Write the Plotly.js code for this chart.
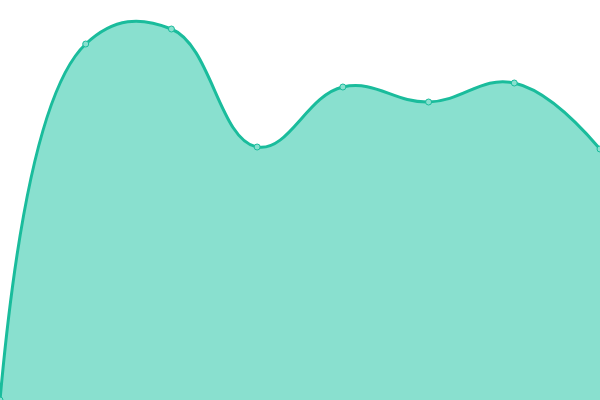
<!DOCTYPE html>
<html><head><meta charset="utf-8">
<script src="https://cdn.plot.ly/plotly-3.0.1.min.js"></script>
<style>html,body{margin:0;padding:0;background:#fff}#c{width:600px;height:400px}</style>
</head><body><div id="c"></div>
<script>
const xs = [0, 1, 2, 3, 4, 5, 6, 7];
const values = [0, 89, 92.75, 63.25, 78.25, 74.5, 79.25, 62.75];
Plotly.newPlot('c', [{
  x: xs, y: values, type: 'scatter', mode: 'lines+markers',
  fill: 'tozeroy', fillcolor: '#89e0cf',
  line: {color: '#1abc9c', width: 3, shape: 'spline', smoothing: 1.2},
  marker: {size: 6, color: '#89e0cf', line: {color: '#1abc9c', width: 1}},
  cliponaxis: true
}], {
  width: 600, height: 400, margin: {l: 0, r: 0, t: 0, b: 0},
  paper_bgcolor: '#fff', plot_bgcolor: '#fff', showlegend: false,
  xaxis: {range: [0, 7], visible: false, fixedrange: true},
  yaxis: {range: [0, 100], visible: false, fixedrange: true}
}, {staticPlot: true});
</script></body></html>
